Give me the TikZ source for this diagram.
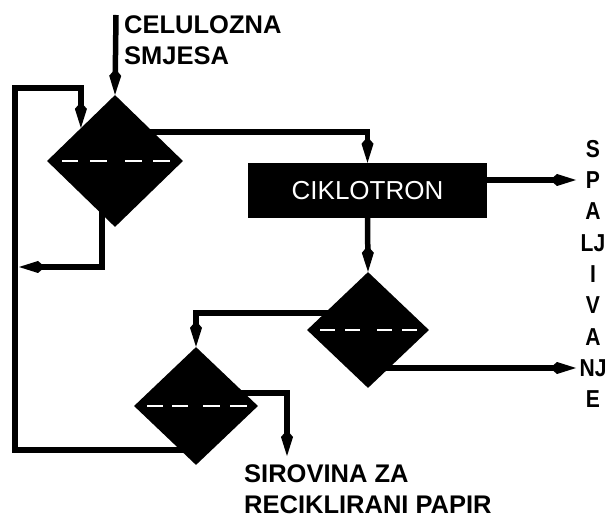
\documentclass[tikz,border=0pt]{standalone}
\usepackage{fontspec}
\setmainfont{Liberation Sans}
\newfontfamily\narrowsans[FakeStretch=0.86]{Liberation Sans}
\usetikzlibrary{shapes.geometric,arrows.meta,calc,backgrounds}

\begin{document}
\begin{tikzpicture}[x=1pt,y=-1pt,
  flow/.style={line width=5.5pt, -{Kite[length=26pt,width=12pt,inset=7pt]}},
  sep/.style={diamond, fill=black, inner sep=0pt},
  dashw/.style={draw=white, line width=2.8pt},
  lbl/.style={font=\bfseries\fontsize{25.5}{31}\selectfont, align=left, inner sep=0pt},
  letter/.style={font=\narrowsans\bfseries\fontsize{24.5}{24.5}\selectfont, inner sep=0pt},
  unit/.style={fill=black, text=white, minimum width=239pt, minimum height=55pt, inner sep=0pt, font=\fontsize{26}{26}\selectfont}
]
\useasboundingbox (0,0) rectangle (607,518);

% separators and unit
\node[sep, minimum width=136pt, minimum height=132pt] (d1) at (115,161) {};
\node[unit] (cik) at (367.5,190.5) {CIKLOTRON};
\node[sep, minimum width=122pt, minimum height=116pt] (d2) at (368,330) {};
\node[sep, minimum width=124pt, minimum height=118pt] (d3) at (196,406) {};

% white dashed dividing lines
\foreach \a/\b in {-53/-37,-25/-8,10/27,38/55}
  \draw[dashw] ($(d1.center)+(\a,0)$) -- ($(d1.center)+(\b,0)$);
\foreach \a/\b in {-48/-33,-23/-8,9/24,34/49}
  \draw[dashw] ($(d2.center)+(\a,0)$) -- ($(d2.center)+(\b,0)$);
\foreach \a/\b in {-49/-33,-24/-8,7/24,34/51}
  \draw[dashw] ($(d3.center)+(\a,0)$) -- ($(d3.center)+(\b,0)$);

% labels
\node[lbl, anchor=north west] (inlbl) at (124,15) {CELULOZNA\\SMJESA};
\node[lbl, anchor=north west] (outlbl) at (244,464) {SIROVINA ZA\\RECIKLIRANI PAPIR};
\foreach \t/\y [count=\i] in {S/148.7, P/180, A/211.3, LJ/242.7, I/274, V/305.3, A/336.7, NJ/368, E/399.3}
  \node[letter] (sp\i) at (593,\y) {\t};

% free ends
\coordinate (inp) at (116,15);
\coordinate (outL) at (19,267);
\coordinate (spalA) at (576,180);
\coordinate (spalB) at (576,368);
\coordinate (sirA) at (287,456);
\coordinate (loopB) at (15,450);
\coordinate (loopT) at (15,88);

% connectors
\begin{scope}[on background layer]
\draw[flow] (inp) -- (d1.north);
\draw[flow] ($(d3.center)+(0,44)$) -- (loopB) -- (loopT) -| (d1.north west);
\draw[flow] ($(d1.center)+(-13,0)$) |- (outL);
\draw[flow] ($(d1.center)+(0,-29)$) -| (cik.north);
\draw[flow] (cik.center |- spalA) -- (spalA);
\draw[flow] (cik.south) -- (d2.north);
\draw[flow] (d2.center |- spalB) -- (spalB);
\draw[flow] ($(d2.center)+(0,-17)$) -| (d3.north);
\draw[flow] ($(d3.center)+(0,-13)$) -| (sirA);
\end{scope}
\end{tikzpicture}
\end{document}
